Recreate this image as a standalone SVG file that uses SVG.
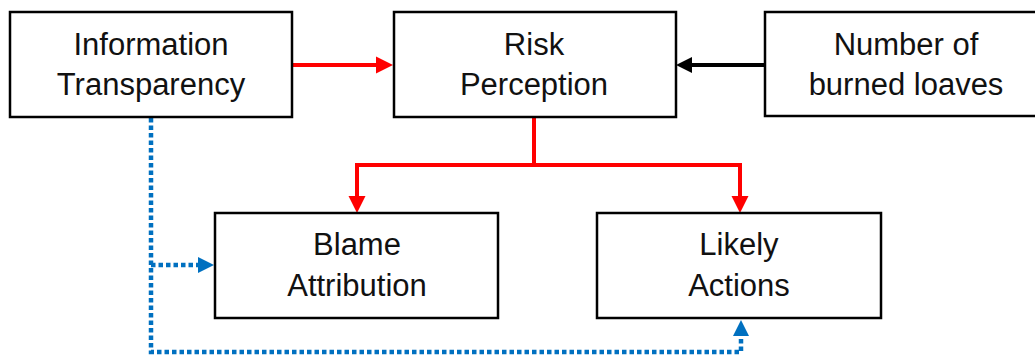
<svg xmlns="http://www.w3.org/2000/svg" width="1035" height="358" viewBox="0 0 1035 358">
  <style>
    .box { fill: #fff; stroke: #000; stroke-width: 2.5; }
    .lbl { font-family: "Liberation Sans", Arial, sans-serif; font-size: 31px; fill: #111; text-anchor: middle; }
    .red { stroke: #ff0000; stroke-width: 4; fill: none; }
    .blk { stroke: #000; stroke-width: 4; fill: none; }
    .blue { stroke: #0070c0; stroke-width: 4.5; fill: none; stroke-dasharray: 4.5 3; }
  </style>
  <defs>
    <marker id="ahRed" markerUnits="userSpaceOnUse" markerWidth="18" markerHeight="18" refX="0" refY="8.5" orient="auto" overflow="visible">
      <path d="M0,0 L17,8.5 L0,17 z" fill="#ff0000"/>
    </marker>
    <marker id="ahBlk" markerUnits="userSpaceOnUse" markerWidth="18" markerHeight="18" refX="0" refY="8" orient="auto" overflow="visible">
      <path d="M0,0 L16,8 L0,16 z" fill="#000"/>
    </marker>
    <marker id="ahBlue" markerUnits="userSpaceOnUse" markerWidth="18" markerHeight="18" refX="0" refY="8" orient="auto" overflow="visible">
      <path d="M0,0 L16,8 L0,16 z" fill="#0070c0"/>
    </marker>
  </defs>

  <g id="connectors">
    <line class="red" x1="292" y1="65" x2="376" y2="65" marker-end="url(#ahRed)"/>
    <line class="blk" x1="765" y1="65" x2="692" y2="65" marker-end="url(#ahBlk)"/>
    <polyline class="red" points="534,117 534,165 357,165 357,196" marker-end="url(#ahRed)"/>
    <polyline class="red" points="534,165 740,165 740,196" marker-end="url(#ahRed)"/>
    <polyline class="blue" points="151,118 151,352 741,352 741,336" marker-end="url(#ahBlue)"/>
    <line class="blue" x1="151" y1="265" x2="198" y2="265" marker-end="url(#ahBlue)"/>
  </g>

  <g id="node-info">
    <rect class="box" x="10" y="12" width="282" height="105"/>
    <text class="lbl" x="151" y="55">Information</text>
    <text class="lbl" x="151" y="95">Transparency</text>
  </g>
  <g id="node-risk">
    <rect class="box" x="394" y="12" width="282" height="105"/>
    <text class="lbl" x="534" y="55">Risk</text>
    <text class="lbl" x="534" y="95">Perception</text>
  </g>
  <g id="node-loaves">
    <rect class="box" x="765" y="12" width="284" height="104"/>
    <text class="lbl" x="906" y="55">Number of</text>
    <text class="lbl" x="906" y="95">burned loaves</text>
  </g>
  <g id="node-blame">
    <rect class="box" x="215" y="213" width="283" height="105"/>
    <text class="lbl" x="357" y="255">Blame</text>
    <text class="lbl" x="357" y="296">Attribution</text>
  </g>
  <g id="node-actions">
    <rect class="box" x="597" y="213" width="284" height="105"/>
    <text class="lbl" x="739" y="255">Likely</text>
    <text class="lbl" x="739" y="296">Actions</text>
  </g>
</svg>
